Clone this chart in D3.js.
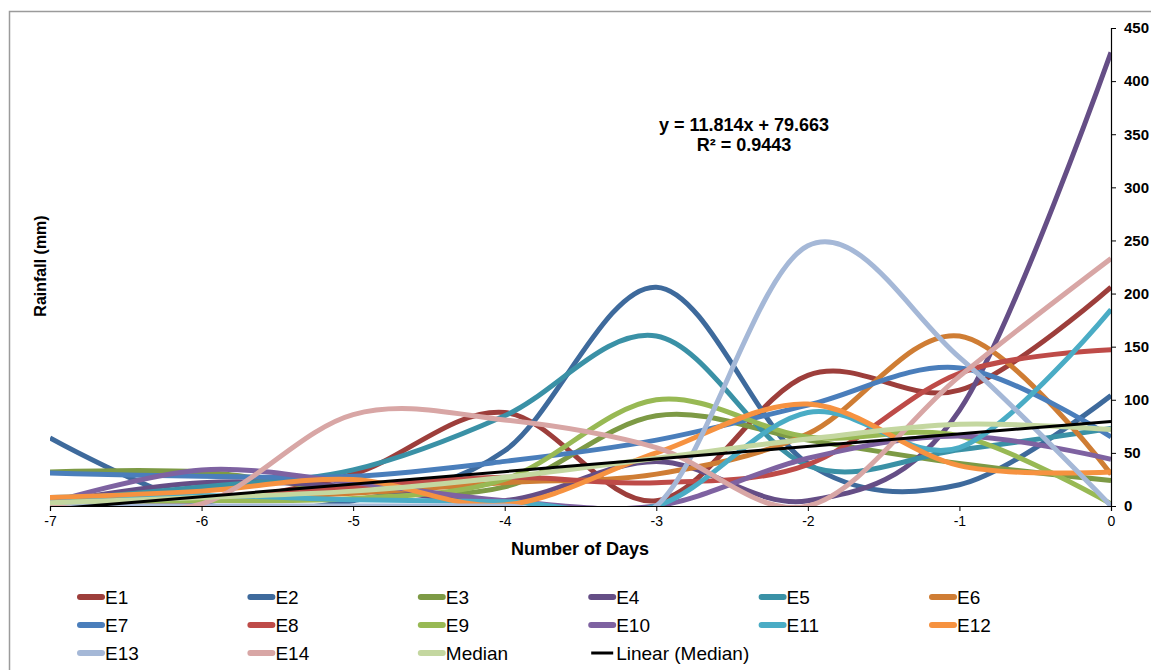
<!DOCTYPE html>
<html>
<head>
<meta charset="utf-8">
<script src="https://cdn.jsdelivr.net/npm/d3@7/dist/d3.min.js"></script>
<style>
    body { margin: 0; background: #fff; }
    svg { display: block; font-family: "Liberation Sans", Arial, sans-serif; }
    .x-tick text { font-size: 14px; fill: #000; }
    .y-tick text { font-size: 15px; font-weight: bold; fill: #000; }
    .axis-label { font-size: 16px; font-weight: bold; }
    .x-label { font-size: 18px; }
    .trend-label { font-size: 18px; font-weight: bold; }
    .legend-text { font-size: 19px; }
</style>
</head>
<body>
<div id="chart"></div>
<script>
// Days before the event (x values).
const days = [-7, -6, -5, -4, -3, -2, -1, 0];

// Rainfall (mm) for each event.
const e1 = [5, 4, 30, 88, 5, 123, 109, 206];
const e2 = [64, 2, 5, 52, 206, 40, 20, 104];
const e3 = [32, 32, 15, 18, 85, 62, 40, 24];
const e4 = [3, 22, 18, 5, 42, 5, 90, 427];
const e5 = [5, 18, 34, 85, 160, 38, 53, 73];
const e6 = [8, 7, 12, 22, 30, 68, 160, 30];
const e7 = [31, 28, 28, 42, 62, 95, 130, 65];
const e8 = [5, 8, 18, 27, 22, 39, 125, 147];
const e9 = [4, 5, 7, 25, 100, 65, 66, 2];
const e10 = [3, 34, 22, 5, 0, 45, 66, 44];
const e11 = [8, 10, 6, 4, 0, 88, 55, 185];
const e12 = [8, 14, 25, 1, 50, 96, 38, 32];
const e13 = [0, 0, 0, 0, 0, 245, 140, 0];
const e14 = [0, 2, 86, 81, 55, 0, 122, 233];
const median = [3, 8, 14, 27, 45, 63, 77, 72];

const seriesNames = ["E1", "E2", "E3", "E4", "E5", "E6", "E7", "E8", "E9", "E10", "E11", "E12", "E13", "E14", "Median"];
const seriesValues = [e1, e2, e3, e4, e5, e6, e7, e8, e9, e10, e11, e12, e13, e14, median];
const seriesColors = ["#9D3E3B", "#3E6A9C", "#7D9A45", "#654E86", "#3A91A6", "#CF7D34",
    "#4A7EBB", "#BE4B48", "#98B954", "#7E62A1", "#4AACC5", "#F69240",
    "#A5B8D7", "#D8A6A5", "#C4D7A0"];

// Linear trendline of the median, as printed on the chart.
const trendSlope = 11.814;
const trendIntercept = 79.663;
const trendText = ["y = 11.814x + 79.663", "R\u00B2 = 0.9443"];

// Tick values.
const xTicks = [-7, -6, -5, -4, -3, -2, -1, 0];
const yTicks = [0, 50, 100, 150, 200, 250, 300, 350, 400, 450];

const width = 1151;
const height = 670;
const plot = { left: 50, right: 1111, top: 28, bottom: 506 };

const svg = d3.select("#chart")
    .append("svg")
    .attr("width", width)
    .attr("height", height);

// Outer chart frame.
svg.append("rect")
    .attr("x", 9.5)
    .attr("y", 11.5)
    .attr("width", 1200)
    .attr("height", 700)
    .attr("fill", "#fff")
    .attr("stroke", "#9B9B9B")
    .attr("stroke-width", 1.5);

const xScale = d3.scaleLinear()
    .domain([-7, 0])
    .range([plot.left, plot.right]);

const yScale = d3.scaleLinear()
    .domain([0, 450])
    .range([plot.bottom, plot.top]);

// Clip the curves to the plot area.
svg.append("clipPath")
    .attr("id", "plot-clip")
    .append("rect")
    .attr("x", plot.left)
    .attr("y", plot.top)
    .attr("width", plot.right - plot.left)
    .attr("height", plot.bottom - plot.top);

const lineGen = d3.line()
    .x(function(d, i) { return xScale(days[i]); })
    .y(function(d) { return yScale(d); })
    .curve(d3.curveCardinal.tension(0));

const plotGroup = svg.append("g").attr("clip-path", "url(#plot-clip)");

plotGroup.selectAll("path.series")
    .data(seriesValues)
    .join("path")
    .attr("class", "series")
    .attr("d", function(d) { return lineGen(d); })
    .attr("fill", "none")
    .attr("stroke", function(d, i) { return seriesColors[i]; })
    .attr("stroke-width", 5);

// Trendline through the median.
plotGroup.append("line")
    .attr("x1", xScale(-7))
    .attr("y1", yScale(trendSlope * -7 + trendIntercept))
    .attr("x2", xScale(0))
    .attr("y2", yScale(trendIntercept))
    .attr("stroke", "#000")
    .attr("stroke-width", 3);

// X axis at the bottom of the plot.
const xAxis = svg.append("g")
    .attr("class", "x-tick")
    .attr("transform", `translate(0, ${plot.bottom})`)
    .call(d3.axisBottom(xScale).tickValues(xTicks).tickSize(5).tickPadding(5)
        .tickFormat(function(d) { return String(d); }));
xAxis.select(".domain").attr("stroke", "#000").attr("stroke-width", 1.2);
xAxis.selectAll(".tick line").attr("stroke", "#000");
xAxis.selectAll("text").attr("font-family", null).attr("font-size", null);

// Y axis on the right side.
const yAxis = svg.append("g")
    .attr("class", "y-tick")
    .attr("transform", `translate(${plot.right}, 0)`)
    .call(d3.axisRight(yScale).tickValues(yTicks).tickSize(5).tickPadding(8));
yAxis.select(".domain").attr("stroke", "#000").attr("stroke-width", 1.2);
yAxis.selectAll(".tick line").attr("stroke", "#000");
yAxis.selectAll("text").attr("font-family", null).attr("font-size", null);

// Axis titles.
svg.append("text")
    .attr("class", "axis-label x-label")
    .attr("x", 580)
    .attr("y", 555)
    .attr("text-anchor", "middle")
    .text("Number of Days");

svg.append("text")
    .attr("class", "axis-label")
    .attr("transform", "translate(46, 266) rotate(-90)")
    .attr("text-anchor", "middle")
    .text("Rainfall (mm)");

// Trendline equation.
svg.selectAll("text.trend-label")
    .data(trendText)
    .join("text")
    .attr("class", "trend-label")
    .attr("x", 744)
    .attr("y", function(d, i) { return 131 + i * 20; })
    .attr("text-anchor", "middle")
    .text(function(d) { return d; });

// Legend: six columns, three rows.
const legendItems = seriesNames.map(function(name, i) {
    return { name: name, color: seriesColors[i], width: 6, round: true };
});
legendItems.push({ name: "Linear (Median)", color: "#000", width: 3, round: false });

const legend = svg.selectAll("g.legend-item")
    .data(legendItems)
    .join("g")
    .attr("class", "legend-item")
    .attr("transform", function(d, i) {
        return `translate(${80 + (i % 6) * 170.4}, ${597 + Math.floor(i / 6) * 28})`;
    });

legend.append("line")
    .attr("x1", 0)
    .attr("x2", 22)
    .attr("stroke", function(d) { return d.color; })
    .attr("stroke-width", function(d) { return d.width; })
    .attr("stroke-linecap", function(d) { return d.round ? "round" : "butt"; });

legend.append("text")
    .attr("class", "legend-text")
    .attr("x", 25)
    .attr("y", 7)
    .text(function(d) { return d.name; });
</script>
</body>
</html>
